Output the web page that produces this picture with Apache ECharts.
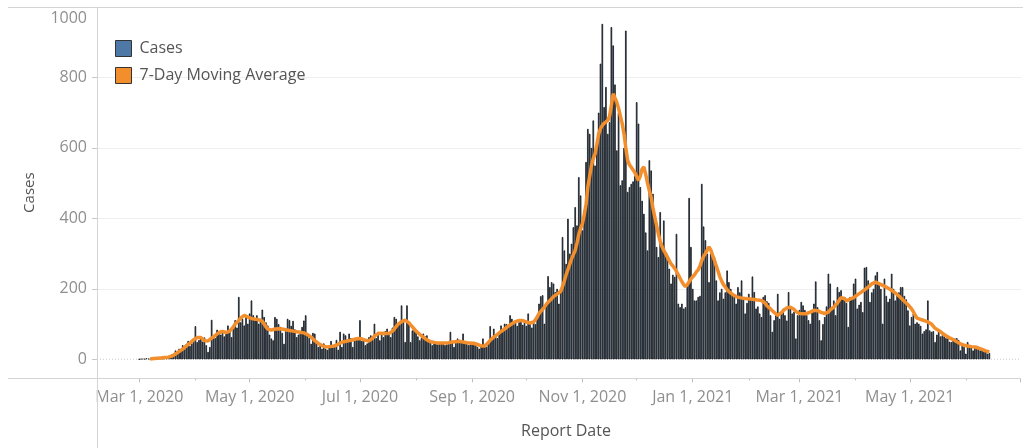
<!DOCTYPE html>
<html><head><meta charset="utf-8">
<script src="https://cdn.jsdelivr.net/npm/echarts@6/dist/echarts.min.js"></script>
<style>html,body{margin:0;padding:0;background:#fff}#c{width:1023px;height:448px}</style>
</head><body><div id="c"></div>
<script>
// first report date; one value per day from here
const startDate = '2020-03-01';
const cases = [
0,1,2,1,3,2,1,
2,1,3,2,4,3,2,
5,4,6,8,14,10,25,
18,30,26,40,35,44,52,
38,45,60,94,49,55,59,
50,62,40,21,35,112,68,
60,84,78,70,82,65,73,
96,85,63,94,111,90,177,
105,115,96,120,101,130,167,
125,110,125,101,115,141,120,
105,96,70,59,54,120,115,
100,92,75,44,80,115,111,
95,109,85,63,70,78,92,
110,125,68,60,44,75,73,
50,35,40,30,45,30,27,
40,52,38,35,55,27,78,
35,73,68,55,73,60,35,
55,63,60,111,52,60,40,
45,63,68,55,101,60,78,
54,70,63,80,87,75,63,
90,120,115,96,100,153,110,
49,153,100,49,82,90,78,
65,54,60,73,65,68,54,
50,40,45,49,42,44,46,
44,40,42,46,78,50,35,
48,59,52,50,73,44,50,
40,42,45,50,48,35,30,
36,59,37,35,45,94,60,
87,65,60,75,96,85,101,
100,95,125,115,100,110,95,
105,106,98,110,95,130,100,
90,110,100,125,158,179,182,
101,160,236,205,219,215,191,
200,158,190,347,309,271,399,
300,328,375,432,380,517,465,
366,423,560,654,640,600,678,
550,612,700,839,952,716,773,
640,673,943,891,780,593,700,
494,508,600,933,475,489,498,
505,520,730,669,489,450,413,
360,309,565,536,470,404,319,
290,418,330,394,300,290,257,
215,240,234,356,158,148,158,
144,148,215,458,319,200,167,
167,177,180,498,377,338,300,
219,300,290,290,224,167,190,
200,172,190,252,219,200,185,
177,158,205,190,224,172,130,
160,186,170,235,191,144,150,
130,120,177,182,165,160,125,
78,111,130,186,115,130,144,
125,110,191,148,130,135,59,
125,140,163,153,140,125,111,
101,140,158,221,148,111,54,
100,120,150,243,215,148,167,
125,205,191,196,177,177,160,
92,177,170,215,229,144,155,
163,134,260,262,224,163,190,
200,238,248,215,200,101,229,
180,163,172,243,200,167,185,
190,205,205,180,170,139,96,
120,130,101,105,101,95,73,
80,85,167,82,78,80,49,
70,78,65,68,65,60,59,
50,49,55,59,60,55,25,
40,35,16,49,40,38,25,
35,38,30,25,28,21,25,
16,18
];
const movingAvg = [
null,null,null,null,null,null,
1,2,2,3,3,4,4,5,
5,6,6,7,9,11,15,
19,22,25,29,34,38,42,
46,50,55,60,62,63,62,
58,53,49,52,56,60,63,
68,72,76,78,79,77,76,
78,80,85,92,100,105,110,
117,121,125,124,120,117,116,
115,114,113,112,111,108,100,
92,86,82,83,84,86,87,
87,86,86,85,84,83,82,
81,80,79,78,78,77,76,
75,73,70,68,63,58,53,
49,45,42,39,37,35,35,
36,37,37,38,40,43,46,
48,50,51,52,53,54,56,
57,58,59,60,58,56,54,
52,52,55,60,66,70,73,
74,74,73,73,73,73,75,
80,86,93,99,103,107,110,
111,110,104,98,92,86,80,
75,71,68,63,58,55,52,
50,49,48,47,46,46,46,
46,46,46,47,48,49,50,
50,51,51,50,49,48,47,
47,46,46,45,44,42,40,
38,37,38,42,48,54,59,
63,67,71,75,79,82,86,
90,94,98,101,104,107,109,
110,111,110,108,106,104,103,
103,106,112,120,130,136,139,
148,156,162,167,172,178,182,
185,186,193,207,222,240,255,
270,285,297,309,330,355,372,
385,410,440,489,520,550,570,
583,610,640,655,664,670,675,
678,690,720,754,742,730,712,
690,669,640,600,565,552,545,
541,530,518,508,520,540,546,
525,500,479,460,430,404,380,
355,335,320,309,300,290,280,
271,265,258,250,240,230,220,
212,206,212,220,228,233,240,
248,254,265,280,292,300,310,
319,310,295,281,265,250,234,
222,212,205,198,192,188,184,
181,178,176,175,174,173,172,
172,171,171,170,170,169,168,
168,167,167,160,152,148,143,
138,133,128,125,126,132,138,
143,146,148,148,146,142,136,
132,130,130,129,130,130,132,
134,137,139,140,138,136,133,
131,130,130,134,140,145,148,
153,160,168,175,177,172,166,
168,171,172,175,179,183,187,
190,193,197,201,205,209,214,
217,219,218,215,212,210,208,
205,202,199,196,192,188,184,
180,175,170,165,160,155,150,
143,135,125,117,115,113,111,
110,108,106,104,100,94,88,
84,82,78,74,70,67,64,
61,59,56,53,50,47,44,
42,40,39,38,37,36,36,
35,34,32,30,28,26,24,
22,21
];
const yTicks = [0, 200, 400, 600, 800, 1000];
const xTickDates = ['2020-03-01','2020-05-01','2020-07-01','2020-09-01','2020-11-01','2021-01-01','2021-03-01','2021-05-01'];
const xTickLabels = ['Mar 1, 2020','May 1, 2020','Jul 1, 2020','Sep 1, 2020','Nov 1, 2020','Jan 1, 2021','Mar 1, 2021','May 1, 2021'];
const xEdgeTickDates = ['2021-07-01'];
const xMinorTickDates = ['2020-04-01','2020-06-01','2020-08-01','2020-10-01','2020-12-01','2021-02-01','2021-04-01','2021-06-01'];
const axisStart = '2020-02-06';
const axisEnd = '2021-07-01';

const DAY = 86400000;
function ts(s){ const p = s.split('-').map(Number); return Date.UTC(p[0], p[1]-1, p[2]); }
const t0 = ts(startDate);
function dayNo(s){ return Math.round((ts(s) - t0) / DAY); }   // days since startDate
const xMin = dayNo(axisStart) + 0.6;
const xMax = dayNo(axisEnd) + 0.5;
const labelMap = {};
xTickDates.forEach((d,i)=>{ labelMap[dayNo(d)] = xTickLabels[i]; });

const barData = cases.map((v,i)=>[i, v]);
const maData = [];
movingAvg.forEach((v,i)=>{ if (v !== null) maData.push([i, v]); });

const FONT = 'Open Sans';
const LBL = '#8f8f8f';
const LINE = '#d4d4d4';

const chart = echarts.init(document.getElementById('c'), null, {renderer:'canvas'});
chart.setOption({
  animation: false,
  backgroundColor: '#fff',
  grid: { left: 97, right: 2, top: 7, bottom: 88.7, containLabel: false },
  legend: {
    orient: 'vertical', left: 110, top: 35, itemWidth: 16, itemHeight: 16, itemGap: 10,
    icon: 'rect', selectedMode: false,
    itemStyle: { borderColor: '#333', borderWidth: 1 },
    textStyle: { fontFamily: FONT, fontSize: 16, color: '#555', padding: [0,0,0,3] },
    data: ['Cases', '7-Day Moving Average']
  },
  xAxis: [{
    type: 'value', position: 'bottom', offset: 19, min: xMin, max: xMax,
    axisLine: { show: false, onZero: false },
    axisTick: { show: true, length: 4, lineStyle: { color: '#bdbdbd' },
      customValues: xTickDates.concat(xEdgeTickDates).map(dayNo) },
    axisLabel: { customValues: xTickDates.map(dayNo), fontFamily: FONT, fontSize: 16, color: LBL, margin: 11,
      formatter: v => labelMap[Math.round(v)] || '' },
    splitLine: { show: false },
    name: 'Report Date', nameLocation: 'middle', nameGap: 45,
    nameTextStyle: { fontFamily: FONT, fontSize: 16, color: '#555', padding: [0,0,0,14] }
  },{
    type: 'value', position: 'bottom', offset: 19, min: xMin, max: xMax,
    axisLine: { show: false, onZero: false },
    axisTick: { show: true, length: 2, lineStyle: { color: '#bdbdbd' }, customValues: xMinorTickDates.map(dayNo) },
    axisLabel: { show: false },
    splitLine: { show: false }
  }],
  yAxis: {
    type: 'value', min: yTicks[0], max: yTicks[yTicks.length-1], interval: 200,
    axisLine: { show: false, onZero: false },
    axisTick: { show: true, length: 5, lineStyle: { color: '#c8c8c8' } },
    axisLabel: { fontFamily: FONT, fontSize: 16, color: LBL, margin: 10,
      formatter: v => v === 1000 ? '{t|1000}' : String(v),
      rich: { t: { fontFamily: FONT, fontSize: 16, color: LBL, padding: [22,0,0,0] } } },
    splitLine: { show: true, showMinLine: false, lineStyle: { color: '#efefef', width: 1 } },
    name: 'Cases', nameLocation: 'middle', nameGap: 60, nameRotate: 90,
    nameTextStyle: { fontFamily: FONT, fontSize: 15, color: '#555', padding: [0,19,0,0] }
  },
  series: [
    { name: 'zero', type: 'line', xAxisIndex: 0, data: [[xMin,0],[xMax,0]], showSymbol: false, silent: true,
      lineStyle: { color: '#bdbdbd', width: 1, type: [1,2] }, z: 1 },
    { name: 'Cases', type: 'bar', xAxisIndex: 0, data: barData, barWidth: 1.5,
      itemStyle: { color: '#4e79a7', borderColor: '#000', borderWidth: 0.7 }, z: 2 },
    { name: '7-Day Moving Average', type: 'line', xAxisIndex: 0, data: maData, showSymbol: false,
      lineStyle: { color: '#f28e2b', width: 3.5 }, itemStyle: { color: '#f28e2b' }, z: 3 }
  ],
  graphic: [
    { type: 'line', shape: { x1: 8, y1: 7.5, x2: 1023, y2: 7.5 }, style: { stroke: LINE, lineWidth: 1 }, z: 10 },
    { type: 'line', shape: { x1: 8, y1: 378.5, x2: 1021, y2: 378.5 }, style: { stroke: LINE, lineWidth: 1 }, z: 10 },
    { type: 'line', shape: { x1: 97.5, y1: 7, x2: 97.5, y2: 448 }, style: { stroke: LINE, lineWidth: 1 }, z: 10 }
  ]
});
</script></body></html>
